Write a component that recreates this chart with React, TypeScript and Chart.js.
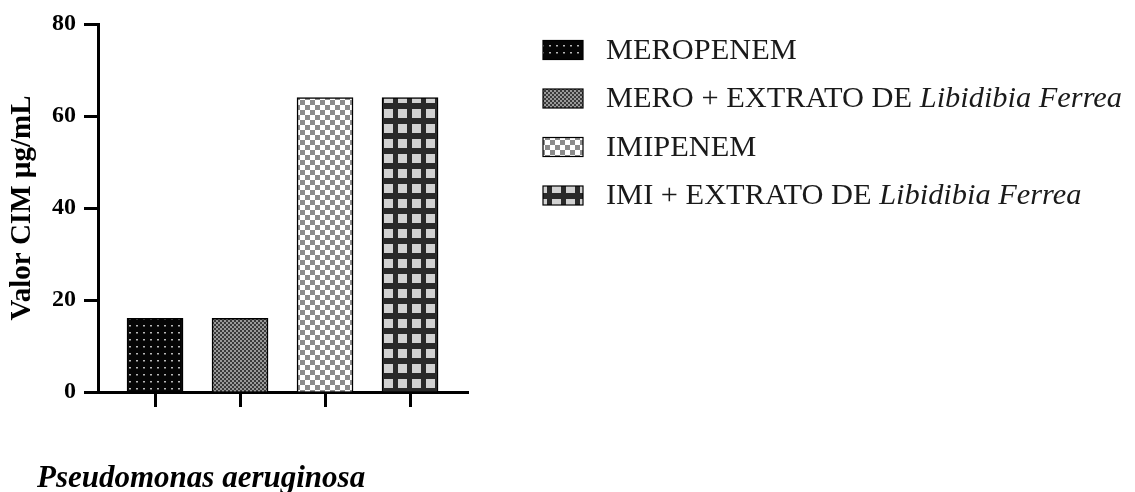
import React, { useEffect, useRef } from "react";
import { Chart, registerables } from "chart.js";

Chart.register(...registerables);

// ---- data ----
const seriesNames = ["MEROPENEM", "MERO + EXTRATO DE", "IMIPENEM", "IMI + EXTRATO DE"];
const seriesItalic = ["", "Libidibia Ferrea", "", "Libidibia Ferrea"];
const barPositions = [1, 2, 3, 4];
const micValues = [16, 16, 64, 64];
const yTickValues = [0, 20, 40, 60, 80];
const yAxisTitle = "Valor CIM µg/mL";
const caption = "Pseudomonas aeruginosa";

const FONT = '"Liberation Serif", "Times New Roman", serif';

function makePattern(kind: number): CanvasPattern | string {
  const c = document.createElement("canvas");
  const ctx = c.getContext("2d");
  if (!ctx) return "#000";
  if (kind === 0) {
    c.width = 7; c.height = 7;
    ctx.fillStyle = "#050505"; ctx.fillRect(0, 0, 7, 7);
    ctx.fillStyle = "#b8b8b8"; ctx.fillRect(3, 3, 2, 1.5);
  } else if (kind === 1) {
    c.width = 4; c.height = 4;
    ctx.fillStyle = "#3a3a3a"; ctx.fillRect(0, 0, 4, 4);
    ctx.fillStyle = "#9a9a9a"; ctx.fillRect(0, 0, 2, 2); ctx.fillRect(2, 2, 2, 2);
  } else if (kind === 2) {
    c.width = 10; c.height = 10;
    ctx.fillStyle = "#ffffff"; ctx.fillRect(0, 0, 10, 10);
    ctx.fillStyle = "#8c8c8c"; ctx.fillRect(0, 0, 5, 5); ctx.fillRect(5, 5, 5, 5);
  } else {
    c.width = 14; c.height = 15;
    ctx.fillStyle = "#2a2a2a"; ctx.fillRect(0, 0, 14, 15);
    ctx.fillStyle = "#d2d2d2";
    ctx.fillRect(6, 4, 8, 9);
    ctx.fillRect(0, 4, 1, 9);
  }
  return ctx.createPattern(c, "repeat") || "#000";
}

const legendAndCaption = {
  id: "legendAndCaption",
  afterDraw(chart: any) {
    const ctx = chart.ctx as CanvasRenderingContext2D;
    ctx.save();
    chart.data.datasets.forEach((ds: any, i: number) => {
      const base = 58.5 + i * 48.5;
      const bx = 543, by = base - 18, bw = 40, bh = 19;
      ctx.fillStyle = ds.backgroundColor;
      ctx.fillRect(bx, by, bw, bh);
      ctx.strokeStyle = "#000";
      ctx.lineWidth = 1.2;
      ctx.strokeRect(bx, by, bw, bh);
      ctx.fillStyle = "#1a1a1a";
      ctx.textBaseline = "alphabetic";
      ctx.textAlign = "left";
      ctx.font = `30.4px ${FONT}`;
      const main = seriesNames[i];
      ctx.fillText(main, 606, base);
      if (seriesItalic[i]) {
        const w = ctx.measureText(main + " ").width;
        ctx.font = `italic 30.4px ${FONT}`;
        ctx.fillText(seriesItalic[i], 606 + w, base);
      }
    });
    ctx.fillStyle = "#000";
    ctx.font = `italic bold 31px ${FONT}`;
    ctx.fillText(caption, 37, 487);
    ctx.restore();
  },
};

export default function App() {
  const ref = useRef<HTMLCanvasElement | null>(null);
  useEffect(() => {
    if (!ref.current) return;
    const datasets = micValues.map((v, i) => ({
      label: seriesNames[i] + (seriesItalic[i] ? " " + seriesItalic[i] : ""),
      data: [{ x: barPositions[i], y: v }],
      backgroundColor: makePattern(i) as any,
      borderColor: "#000",
      borderWidth: 1.5,
      barThickness: 56,
      grouped: false,
    }));
    const chart = new Chart(ref.current, {
      type: "bar",
      data: { datasets },
      plugins: [legendAndCaption],
      options: {
        animation: false,
        responsive: false,
        layout: { padding: { left: 0, top: 24, right: 667, bottom: 80 } },
        plugins: { legend: { display: false }, tooltip: { enabled: false }, title: { display: false } },
        scales: {
          x: {
            type: "linear",
            offset: false,
            min: 0.329,
            max: 4.682,
            afterBuildTicks: (s: any) => { s.ticks = barPositions.map((v) => ({ value: v })); },
            afterFit: (s: any) => { s.height = 20; },
            ticks: { display: false },
            grid: { offset: false, drawOnChartArea: false, drawTicks: true, tickLength: 15, tickWidth: 3, tickColor: "#000" },
            border: { display: true, width: 3, color: "#000" },
          },
          y: {
            min: 0,
            max: 80,
            afterBuildTicks: (s: any) => { s.ticks = yTickValues.map((v) => ({ value: v })); },
            afterFit: (s: any) => { s.width = 98; },
            ticks: { color: "#000", padding: 8, font: { family: FONT, size: 24, weight: "bold" } },
            grid: { drawOnChartArea: false, drawTicks: true, tickLength: 14, tickWidth: 3, tickColor: "#000" },
            border: { display: true, width: 3, color: "#000" },
            title: {
              display: true,
              text: yAxisTitle,
              color: "#000",
              padding: { top: 5, bottom: 0 },
              font: { family: FONT, size: 29, weight: "bold" },
            },
          },
        },
      } as any,
    });
    return () => chart.destroy();
  }, []);
  return (
    <div style={{ position: "absolute", left: 0, top: 0, width: 1135, height: 492, background: "#fff" }}>
      <canvas ref={ref} width={1135} height={492} style={{ display: "block" }} />
    </div>
  );
}
